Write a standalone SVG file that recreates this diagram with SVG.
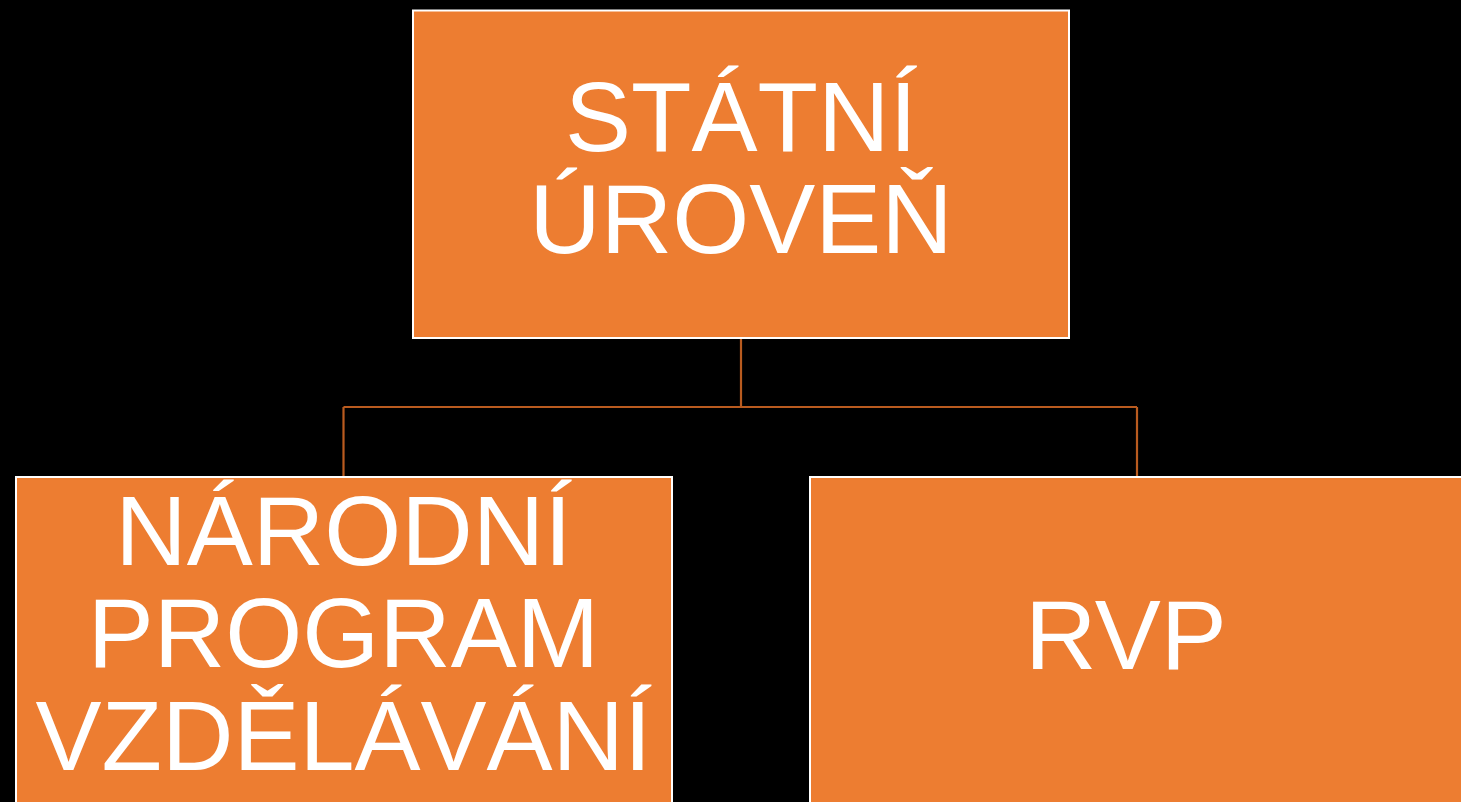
<svg xmlns="http://www.w3.org/2000/svg" width="1461" height="802" viewBox="0 0 1461 802">
<style>
.box{fill:#ED7D31;stroke:#FFFFFF;stroke-width:2}
.lbl{font-family:"Liberation Sans",Arial,sans-serif;font-size:99px;fill:#FFFFFF;text-anchor:middle}
.conn{fill:none;stroke:#B95B1F;stroke-width:2.2}
</style>
<rect x="0" y="0" width="1461" height="802" fill="#000000"/>
<g id="connectors">
<path class="conn" d="M741 339 V407 M343.5 407 H1137 M343.5 407 V476 M1137 407 V476"/>
</g>
<g id="node-statni">
<rect class="box" x="413" y="10.5" width="656" height="327.5"/>
<text class="lbl" x="741" y="151">STÁTNÍ</text>
<text class="lbl" x="741" y="253">ÚROVEŇ</text>
</g>
<g id="node-narodni">
<rect class="box" x="16" y="477" width="656" height="340"/>
<text class="lbl" x="343.5" y="565">NÁRODNÍ</text>
<text class="lbl" x="343.5" y="667">PROGRAM</text>
<text class="lbl" x="343.5" y="770">VZDĚLÁVÁNÍ</text>
</g>
<g id="node-rvp">
<rect class="box" x="810" y="477" width="656" height="340"/>
<text class="lbl" x="1126" y="669">RVP</text>
</g>
</svg>
